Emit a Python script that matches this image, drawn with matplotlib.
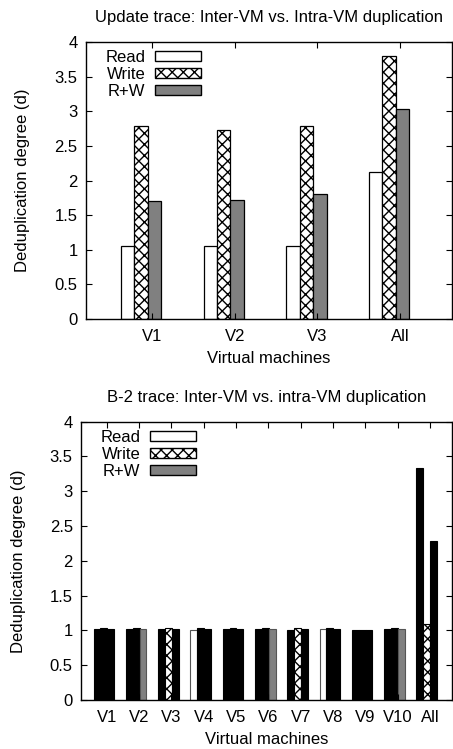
import numpy as np
import matplotlib
matplotlib.use('Agg')
import matplotlib.pyplot as plt
from matplotlib.patches import Patch

# Update trace
vms_upd = ['V1', 'V2', 'V3', 'All']
upd_read = [1.06, 1.06, 1.05, 2.13]
upd_write = [2.79, 2.73, 2.79, 3.79]
upd_rw = [1.71, 1.72, 1.81, 3.03]

# B-2 trace
vms_b2 = ['V1', 'V2', 'V3', 'V4', 'V5', 'V6', 'V7', 'V8', 'V9', 'V10', 'All']
b2_read = [1.02, 1.02, 1.02, 1.00, 1.02, 1.02, 1.00, 1.02, 1.00, 1.02, 3.33]
b2_write = [1.03, 1.03, 1.04, 1.03, 1.03, 1.03, 1.03, 1.03, 1.01, 1.03, 1.09]
b2_rw = [1.02, 1.02, 1.02, 1.02, 1.02, 1.02, 1.02, 1.02, 1.00, 1.02, 2.29]

# which series is visible in each B-2 group (the rest render solid black)
b2_visible = [None, 'rw', 'write', 'read', None, 'rw', 'write', 'read', None, 'rw', 'write']

plt.rcParams['font.family'] = ['Liberation Sans', 'DejaVu Sans']
plt.rcParams['hatch.linewidth'] = 1.0
fs = 12

styles = {
    'read': dict(facecolor='white', hatch=None),
    'write': dict(facecolor='white', hatch='xxx'),
    'rw': dict(facecolor='#808080', hatch=None),
}
labels = {'read': 'Read', 'write': 'Write', 'rw': 'R+W'}


def style_axes(ax, title, xlim, ypad):
    ax.set_ylim(0, 4)
    ax.set_yticks([0, 0.5, 1, 1.5, 2, 2.5, 3, 3.5, 4])
    ax.set_yticklabels(['0', '0.5', '1', '1.5', '2', '2.5', '3', '3.5', '4'])
    ax.set_xlim(*xlim)
    ax.tick_params(direction='in', length=4, width=0.8, top=True, right=True,
                   labelsize=fs, colors='black')
    ax.tick_params(axis='x', pad=7)
    ax.tick_params(axis='y', pad=6)
    ax.set_title(title, fontsize=fs, pad=14)
    ax.set_xlabel('Virtual machines', fontsize=fs, labelpad=5)
    ax.set_ylabel('Deduplication degree (d)', fontsize=fs, labelpad=ypad)
    for s in ax.spines.values():
        s.set_linewidth(1.0)


def add_legend(ax, anchor):
    handles = [Patch(edgecolor='black', linewidth=1.0, **styles[k]) for k in ['read', 'write', 'rw']]
    ax.legend(handles, [labels[k] for k in ['read', 'write', 'rw']], loc='upper left',
              bbox_to_anchor=anchor, frameon=False, markerfirst=False, fontsize=fs,
              handlelength=2.75, handleheight=0.5, labelspacing=0.12,
              handletextpad=0.6, borderaxespad=0)


fig = plt.figure(figsize=(4.53, 7.49), dpi=100)

# top panel
ax1 = fig.add_axes([0.190, 0.574, 0.808, 0.370])
x = np.arange(len(vms_upd))
w1 = 0.162
for i, (key, vals) in enumerate([('read', upd_read), ('write', upd_write), ('rw', upd_rw)]):
    ax1.bar(x - 0.376 + i * w1, vals, width=w1, align='edge', edgecolor='black',
            linewidth=0.9, **styles[key])
ax1.set_xticks(x)
ax1.set_xticklabels(vms_upd)
style_axes(ax1, 'Update trace: Inter-VM vs. Intra-VM duplication', (-0.80, 3.63), 18)
add_legend(ax1, (0.034, 0.995))

# bottom panel
ax2 = fig.add_axes([0.179, 0.0654, 0.819, 0.3716])
x2 = np.arange(len(vms_b2))
w2 = 0.213
for i, (key, vals) in enumerate([('read', b2_read), ('write', b2_write), ('rw', b2_rw)]):
    for j, v in enumerate(vals):
        if b2_visible[j] == key:
            st = styles[key]
            ec = 'black' if key == 'write' else '#555555'
        else:
            st = dict(facecolor='black', hatch=None)
            ec = 'black'
        ax2.bar(x2[j] - 0.415 + i * w2, v, width=w2, align='edge', edgecolor=ec,
                linewidth=0.8, **st)
ax2.set_xticks(x2)
ax2.set_xticklabels(vms_b2)
style_axes(ax2, 'B-2 trace: Inter-VM vs. intra-VM duplication', (-0.80, 10.69), 17)
add_legend(ax2, (0.034, 0.995))

fig.savefig('out.png', dpi=100)
